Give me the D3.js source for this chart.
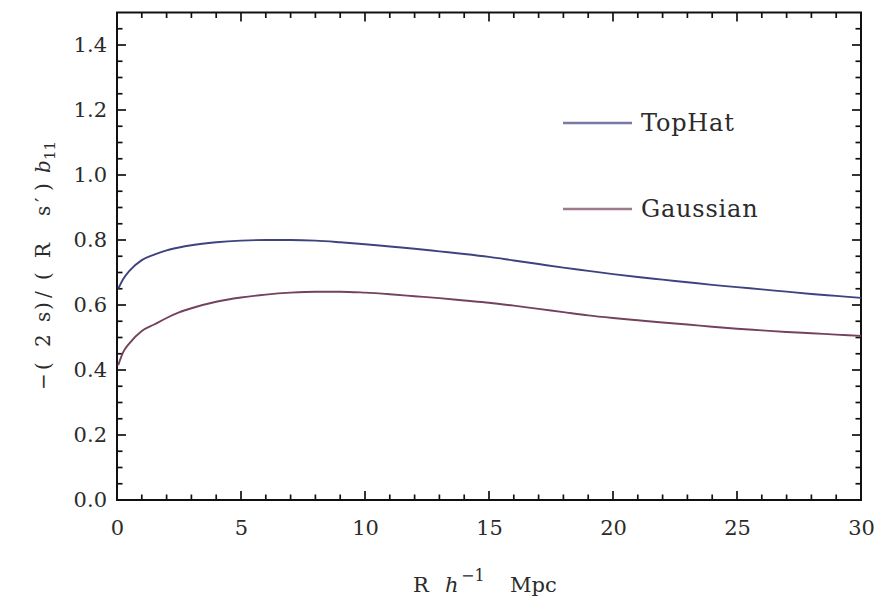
<!doctype html>
<html lang="en">
<head>
  <meta charset="utf-8">
  <title>b11 ratio vs R - D3</title>
  <style>
    body { margin: 0; background: #fff; }
    text { font-family: "DejaVu Serif", serif; fill: #2b2b2b; }
  </style>
</head>
<body>
  <svg></svg>
  <script src="https://cdn.jsdelivr.net/npm/d3@7"></script>
  <script>
    // data
    var radius = [0.05, 0.25, 0.5, 1, 1.5, 2, 2.5, 3, 4, 5, 6, 7, 8, 9, 10, 11, 12, 13, 14, 15,
      16, 17, 18, 19, 20, 21, 22, 23, 24, 25, 26, 27, 28, 29, 30];
    var topHat = [0.650, 0.680, 0.705, 0.738, 0.755, 0.768, 0.777, 0.784, 0.793, 0.798, 0.800, 0.800,
      0.798, 0.793, 0.787, 0.780, 0.773, 0.765, 0.757, 0.748, 0.737, 0.726, 0.715, 0.705, 0.695,
      0.686, 0.678, 0.670, 0.662, 0.655, 0.648, 0.641, 0.634, 0.628, 0.622];
    var gaussian = [0.415, 0.455, 0.482, 0.520, 0.540, 0.560, 0.577, 0.590, 0.610, 0.623, 0.632, 0.638,
      0.641, 0.641, 0.638, 0.633, 0.627, 0.621, 0.614, 0.607, 0.598, 0.588, 0.578, 0.568, 0.560,
      0.553, 0.546, 0.540, 0.533, 0.527, 0.522, 0.517, 0.513, 0.509, 0.505];
    var seriesNames = ['TopHat', 'Gaussian'];
    var seriesColors = ['#3f4280', '#74425c'];
    var xTicks = [0, 5, 10, 15, 20, 25, 30];
    var yTicks = [0.0, 0.2, 0.4, 0.6, 0.8, 1.0, 1.2, 1.4];

    var width = 888;
    var height = 600;
    var margin = { top: 12.5, right: 27, bottom: 100, left: 117 };
    var innerW = width - margin.left - margin.right;
    var innerH = height - margin.top - margin.bottom;

    var svg = d3.select('svg')
      .attr('width', width)
      .attr('height', height);

    var x = d3.scaleLinear().domain([0, 30]).range([0, innerW]);
    var y = d3.scaleLinear().domain([0, 1.5]).range([innerH, 0]);

    var g = svg.append('g')
      .attr('transform', 'translate(' + margin.left + ',' + margin.top + ')');

    // ticks on all four sides, pointing inward
    var xMinor = d3.range(1, 30, 1).filter(function (v) { return v % 5 !== 0; });
    var yMinor = d3.range(1, 30, 1).filter(function (v) { return v % 4 !== 0; }).map(function (v) { return v * 0.05; });
    var major = 9, minor = 5.5;

    var ticks = g.append('g').attr('stroke', '#111').attr('stroke-width', 1.7);
    function xTickLines(vals, len) {
      vals.forEach(function (v) {
        ticks.append('line').attr('x1', x(v)).attr('x2', x(v)).attr('y1', innerH).attr('y2', innerH - len);
        ticks.append('line').attr('x1', x(v)).attr('x2', x(v)).attr('y1', 0).attr('y2', len);
      });
    }
    function yTickLines(vals, len) {
      vals.forEach(function (v) {
        ticks.append('line').attr('y1', y(v)).attr('y2', y(v)).attr('x1', 0).attr('x2', len);
        ticks.append('line').attr('y1', y(v)).attr('y2', y(v)).attr('x1', innerW).attr('x2', innerW - len);
      });
    }
    xTickLines(xTicks, major);
    xTickLines(xMinor, minor);
    yTickLines(yTicks, major);
    yTickLines(yMinor, minor);

    // tick labels via axes
    g.append('g').attr('transform', 'translate(0,' + innerH + ')')
      .call(d3.axisBottom(x).tickValues(xTicks).tickSize(0).tickPadding(20).tickFormat(d3.format('d')))
      .call(function (s) { s.select('.domain').remove(); })
      .selectAll('text').style('font-size', '21px').attr('fill', '#2b2b2b');
    g.append('g')
      .call(d3.axisLeft(y).tickValues(yTicks).tickSize(0).tickPadding(10).tickFormat(d3.format('.1f')))
      .call(function (s) { s.select('.domain').remove(); })
      .selectAll('text').style('font-size', '21px').attr('fill', '#2b2b2b');

    // frame
    g.append('rect')
      .attr('width', innerW).attr('height', innerH)
      .attr('fill', 'none').attr('stroke', '#111').attr('stroke-width', 2);

    // curves
    var line = d3.line()
      .x(function (d) { return x(d[0]); })
      .y(function (d) { return y(d[1]); })
      .curve(d3.curveMonotoneX);

    [topHat, gaussian].forEach(function (vals, i) {
      g.append('path')
        .datum(radius.map(function (r, j) { return [r, vals[j]]; }))
        .attr('fill', 'none')
        .attr('stroke', seriesColors[i])
        .attr('stroke-width', 1.9)
        .attr('d', line);
    });

    // legend
    var legend = svg.append('g').attr('transform', 'translate(563,123)');
    seriesNames.forEach(function (name, i) {
      var row = legend.append('g').attr('transform', 'translate(0,' + (i * 86) + ')');
      row.append('line')
        .attr('x1', 0).attr('x2', 69)
        .attr('stroke', seriesColors[i]).attr('stroke-width', 2.4).attr('opacity', 0.7);
      row.append('text')
        .attr('x', 78).attr('dy', '0.35em')
        .style('font-size', '24px')
        .style('letter-spacing', '0.8px')
        .text(name);
    });

    // axis titles (pieces placed like the original's wide spacing)
    var xt = svg.append('text').attr('y', 592).style('font-size', '21px');
    xt.append('tspan').attr('x', 413).text('R');
    xt.append('tspan').attr('x', 445).style('font-style', 'italic').text('h');
    xt.append('tspan').attr('x', 461).attr('dy', -11).style('font-size', '16px').text('\u22121');
    xt.append('tspan').attr('x', 510).attr('dy', 11).text('Mpc');

    var yt = svg.append('text')
      .attr('transform', 'translate(50,392) rotate(-90)')
      .style('font-size', '20px');
    var yParts = [['\u2212', 2], ['(', 22], ['2', 45], ['s', 70], [')', 82], ['/', 94], ['(', 112],
      ['R', 134], ['s', 176], ['\u2032', 190], [')', 201]];
    yParts.forEach(function (p) {
      yt.append('tspan').attr('x', p[1]).text(p[0]);
    });
    yt.append('tspan').attr('x', 219).style('font-style', 'italic').text('b');
    yt.append('tspan').attr('x', 232).attr('dy', 5).style('font-size', '15px').text('11');
  </script>
</body>
</html>
